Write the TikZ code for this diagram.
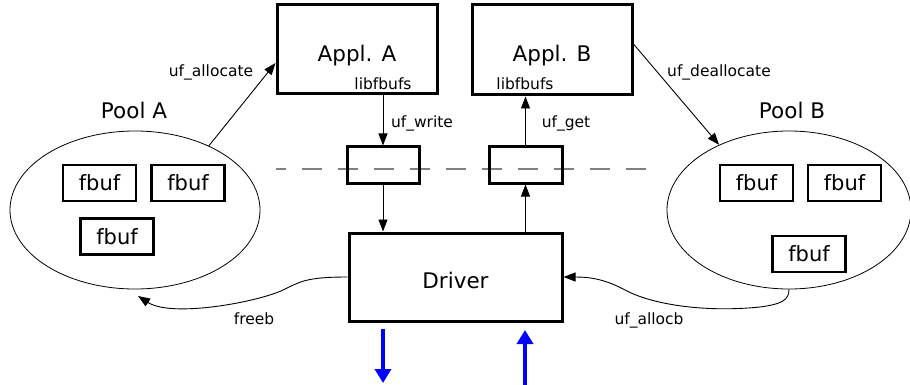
\documentclass[tikz,border=0pt]{standalone}
\usepackage{fontspec}
\setmainfont{DejaVu Sans}
\usetikzlibrary{arrows.meta,shapes.geometric,calc}
\begin{document}
\begin{tikzpicture}[x=1pt,y=-1pt,
  bigbox/.style={draw,line width=3pt,rectangle,inner sep=0pt},
  fbufbox/.style={draw,line width=2.5pt,rectangle,inner sep=0pt,minimum width=73pt,minimum height=36pt,font=\fontsize{21}{24}\selectfont},
  bigtxt/.style={font=\fontsize{21.5}{24}\selectfont,inner sep=0pt,anchor=base},
  smalltxt/.style={font=\fontsize{15.5}{18}\selectfont,inner sep=0pt,anchor=base},
  pool/.style={draw,ellipse,line width=0.8pt,inner sep=0pt},
  flow/.style={line width=0.9pt,-{Triangle[length=12pt,width=9pt]}},
  ext/.style={blue,line width=4pt,-{Triangle[length=14pt,width=16pt]}},
  fence/.style={gray,line width=2pt,dash pattern=on 20pt off 16pt,dash phase=10pt}]
\useasboundingbox (0,0) rectangle (910,385);

% boundary between user space and kernel
\coordinate (fenceL) at (276,169);
\coordinate (fenceR) at (650,169);
\draw[fence] (fenceL) -- (fenceR);

% applications
\node[bigbox,minimum width=160pt,minimum height=89pt] (applA) at (357,49.5) {};
\node[bigtxt] (applAname) at (357,62) {Appl. A};
\node[smalltxt] (libA) at (383,90) {libfbufs};
\node[bigbox,minimum width=160pt,minimum height=90pt] (applB) at (552,50) {};
\node[bigtxt] (applBname) at (552,62) {Appl. B};
\node[smalltxt] (libB) at (525,90) {libfbufs};

% system call gates
\node[bigbox,minimum width=72pt,minimum height=36pt] (gateW) at (383,165) {};
\node[bigbox,minimum width=73pt,minimum height=36pt] (gateG) at (525.5,165) {};

% driver
\node[bigbox,minimum width=213pt,minimum height=88pt] (driver) at (455.5,277) {};
\node[bigtxt] (drvname) at (455.5,288) {Driver};

% buffer pools
\node[pool,minimum width=250pt,minimum height=158pt] (poolA) at (135,210) {};
\node[bigtxt] (poolAname) at (134,119) {Pool A};
\node[fbufbox] (fbA1) at (99.5,183) {fbuf};
\node[fbufbox] (fbA2) at (188,183) {fbuf};
\node[fbufbox] (fbA3) at (117,236.5) {fbuf};

\node[pool,minimum width=244pt,minimum height=158pt] (poolB) at (789,210) {};
\node[bigtxt] (poolBname) at (792,119) {Pool B};
\node[fbufbox] (fbB1) at (756.5,183) {fbuf};
\node[fbufbox] (fbB2) at (844.5,183) {fbuf};
\node[fbufbox] (fbB3) at (809,254) {fbuf};

% call labels
\node[smalltxt] (lAlloc) at (211,77) {uf\_allocate};
\node[smalltxt] (lWrite) at (422,128) {uf\_write};
\node[smalltxt] (lGet) at (566,128) {uf\_get};
\node[smalltxt] (lDealloc) at (719,77) {uf\_deallocate};
\node[smalltxt] (lFreeb) at (254,324) {freeb};
\node[smalltxt] (lAllocb) at (649,324) {uf\_allocb};

% calls
\draw[flow] (poolA.41) -- ($(applA.west)+(0,13.5)$);
\draw[flow] ($(applB.east)+(0,-6)$) -- (poolB.137);
\draw[flow] (gateW.north |- applA.south) -- (gateW.north);
\draw[flow] (gateW.south) -- (gateW.south |- driver.north);
\draw[flow] (gateG.south |- driver.north) -- (gateG.south);
\draw[flow] (gateG.north) -- (gateG.north |- applB.south);

\coordinate (freebEnd) at (138,296);
\draw[flow] (driver.west) .. controls (305,277) and (300,282) .. (283,290)
  .. controls (258,302) and (172,318) .. (freebEnd);
\draw[flow] (poolB.south) .. controls (789,300) and (782,304) .. (760,307)
  .. controls (700,313) and (650,303) .. (627,291)
  .. controls (605,279) and (590,277) .. (driver.east);

% device traffic
\coordinate (txTop) at (383,329);
\coordinate (txBot) at (383,383);
\coordinate (rxBot) at (525,385);
\coordinate (rxTop) at (525,330);
\draw[ext] (txTop) -- (txBot);
\draw[ext] (rxBot) -- (rxTop);
\end{tikzpicture}
\end{document}
